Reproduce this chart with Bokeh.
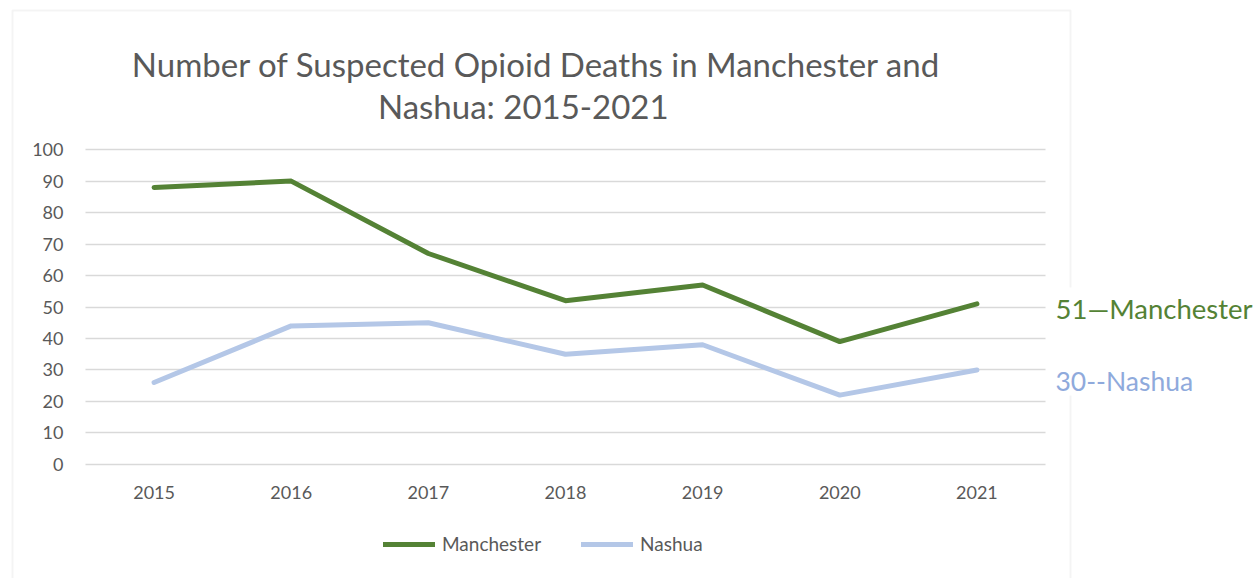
from bokeh.plotting import figure
from bokeh.models import (Range1d, FixedTicker, Legend, LegendItem, Label, BoxAnnotation,
                          LinearAxis, Grid)
from bokeh.embed import file_html
from bokeh.resources import INLINE

# ---- data ----
years = ["2015", "2016", "2017", "2018", "2019", "2020", "2021"]
manchester = [88, 90, 67, 52, 57, 39, 51]
nashua = [26, 44, 45, 35, 38, 22, 30]
y_ticks = [0, 10, 20, 30, 40, 50, 60, 70, 80, 90, 100]
title_lines = ["Number of Suspected Opioid Deaths in Manchester and", "Nashua:  2015-2021"]
end_labels = ["51\u2014Manchester", "30--Nashua"]

# ---- layout (pixel box of the plotting area inside the canvas) ----
W, H = 1258, 578
PL, PR, PT, PB = 85, 1045, 146, 467
XA, XB = -0.5, len(years) - 0.5
YA, YB = -1, 101
kx = (PR - PL) / (XB - XA)
ky = (PB - PT) / (YB - YA)

def dx(px):
    return XA + (px - PL) / kx

def dy(py):
    return YA + (PB - py) / ky

GREEN = "#548235"
BLUE = "#b4c7e7"
BLUE_TXT = "#8faadc"
GRAY = "#595959"
GRID = "#d9d9d9"
FONT = "Lato"

p = figure(width=W, height=H, output_backend="svg", toolbar_location=None,
           x_range=Range1d(dx(0), dx(W)), y_range=Range1d(dy(H), dy(0)),
           x_axis_type=None, y_axis_type=None, min_border=0)
p.outline_line_color = None
p.background_fill_color = "white"
p.border_fill_color = "white"

xs = list(range(len(years)))

# grid limited to the plotting area
grid = Grid(dimension=1, ticker=FixedTicker(ticks=y_ticks), cross_bounds=(XA, XB),
            grid_line_color=GRID, grid_line_width=1.4)
p.add_layout(grid)

r1 = p.line(xs, manchester, line_color=GREEN, line_width=5, line_cap="round", line_join="round")
r2 = p.line(xs, nashua, line_color=BLUE, line_width=5, line_cap="round", line_join="round")

# axes fixed at the plotting area's edges
xaxis = LinearAxis(ticker=FixedTicker(ticks=xs), fixed_location=YA,
                   major_label_overrides={i: y for i, y in enumerate(years)})
yaxis = LinearAxis(ticker=FixedTicker(ticks=y_ticks), fixed_location=XA)
for ax in (xaxis, yaxis):
    ax.axis_line_color = None
    ax.major_tick_line_color = None
    ax.minor_tick_line_color = None
    ax.major_tick_out = 0
    ax.major_tick_in = 0
    ax.major_label_text_font = FONT
    ax.major_label_text_font_size = "18px"
    ax.major_label_text_color = GRAY
yaxis.major_label_standoff = 22
xaxis.major_label_standoff = 18
p.add_layout(xaxis, "below")
p.add_layout(yaxis, "left")

# chart border box
p.add_layout(BoxAnnotation(left=dx(12), right=dx(1070), top=dy(10), bottom=dy(640),
                           fill_alpha=0, line_color=GRID, line_width=2))
p.add_layout(BoxAnnotation(left=dx(1062), right=dx(1080), top=dy(287), bottom=dy(395),
                           fill_color="white", fill_alpha=1, line_color=None))

# title
p.add_layout(Label(x=dx(536), y=dy(63), text=title_lines[0], text_align="center",
                   text_baseline="alphabetic", text_font=FONT, text_font_size="33px",
                   text_color=GRAY))
p.add_layout(Label(x=dx(527), y=dy(105), text=title_lines[1], text_align="center",
                   text_baseline="alphabetic", text_font=FONT, text_font_size="33px",
                   text_color=GRAY))

# end labels
p.add_layout(Label(x=dx(1055), y=dy(308), text=end_labels[0], text_align="left",
                   text_baseline="alphabetic", text_font=FONT, text_font_size="27.5px",
                   text_color=GREEN))
p.add_layout(Label(x=dx(1055), y=dy(380), text=end_labels[1], text_align="left",
                   text_baseline="alphabetic", text_font=FONT, text_font_size="26.5px",
                   text_color=BLUE_TXT))

# legend
legend = Legend(items=[LegendItem(label="Manchester", renderers=[r1]),
                       LegendItem(label="Nashua", renderers=[r2])],
                location=(383, 23), orientation="horizontal",
                padding=0, margin=0, spacing=40, glyph_width=52, label_standoff=7,
                border_line_color=None, background_fill_alpha=0,
                label_text_font=FONT, label_text_font_size="19px",
                label_text_color=GRAY)
p.add_layout(legend, "center")

open("out.html", "w").write(file_html(p, INLINE))
